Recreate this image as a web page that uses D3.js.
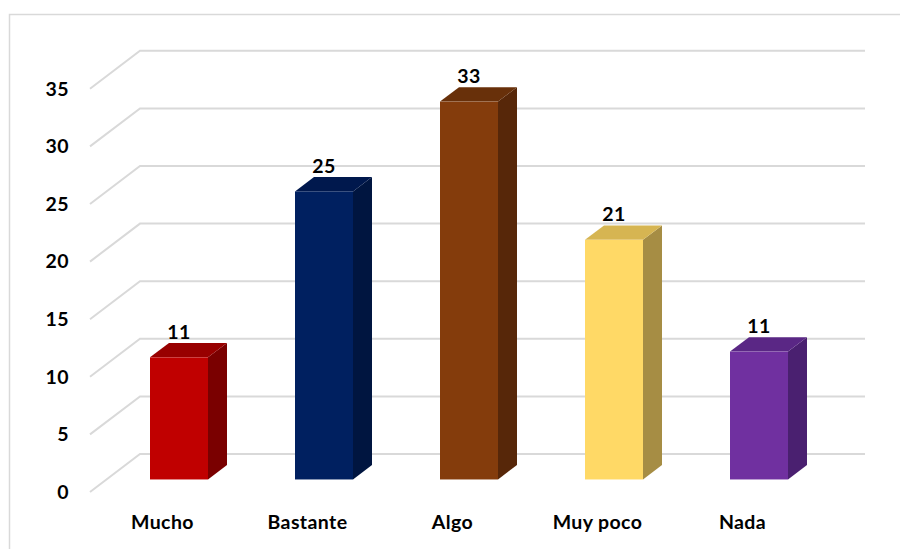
<!DOCTYPE html>
<html>
<head>
<meta charset="utf-8">
<script src="https://cdn.jsdelivr.net/npm/d3@7/dist/d3.min.js"></script>
<style>
  html, body { margin: 0; padding: 0; background: #fff; }
  svg { display: block; }
  text { font-family: Lato, "Open Sans", sans-serif; font-weight: bold; fill: #000; letter-spacing: 0.4px; }
</style>
</head>
<body>
<svg id="chart" width="900" height="549"></svg>
<script>
// ---- data ----
const categories = ["Mucho", "Bastante", "Algo", "Muy poco", "Nada"];
const values = [10.6, 25.0, 32.8, 20.8, 11.1];
const frontColors = ["#C00000", "#002060", "#843C0C", "#FFD966", "#7030A0"];
const sideColors  = ["#7A0000", "#001540", "#572709", "#A68D44", "#4A2070"];
const topColors   = ["#980000", "#00184D", "#68300A", "#D6B552", "#5A2785"];
const yTicks = [0, 5, 10, 15, 20, 25, 30, 35];

// ---- layout ----
const W = 900, H = 549;
const svg = d3.select("#chart");
const front = { left: 90, right: 815, bottom: 492, top: 88.8 };
const depth = { dx: 50, dy: -38 };   // full floor depth
const barFrontFrac = 0.33, barBackFrac = 0.71;
const fs = 19.5;

const x = d3.scaleBand().domain(categories).range([front.left, front.right]).paddingInner(0).paddingOuter(0);
const y = d3.scaleLinear().domain([0, 35]).range([front.bottom, front.top]);

// chart border
svg.append("path")
  .attr("d", `M9.5,${H} L9.5,14.5 L${W},14.5`)
  .attr("fill", "none").attr("stroke", "#d9d9d9").attr("stroke-width", 1.5);

// gridlines (back wall + side wall diagonal)
const grid = svg.append("g").attr("stroke", "#d9d9d9").attr("stroke-width", 2).attr("fill", "none");
yTicks.forEach(t => {
  const yf = y(t);
  grid.append("path")
    .attr("d", `M${front.left},${yf} L${front.left + depth.dx},${yf + depth.dy} L${front.right + depth.dx},${yf + depth.dy}`);
});

// y tick labels
svg.append("g").selectAll("text").data(yTicks).join("text")
  .attr("x", 69).attr("y", d => y(d)).attr("dy", "0.35em")
  .attr("text-anchor", "end").attr("font-size", fs)
  .text(d => d);

// bars
const bw = x.bandwidth() * 0.4;
const fdx = depth.dx * barFrontFrac, fdy = depth.dy * barFrontFrac;
const bdx = depth.dx * barBackFrac, bdy = depth.dy * barBackFrac;
const ddx = bdx - fdx, ddy = bdy - fdy;

const bars = svg.append("g").selectAll("g").data(categories).join("g");
bars.each(function(c, i) {
  const g = d3.select(this);
  const x0 = x(c) + x.bandwidth() / 2 + fdx - bw / 2;
  const x1 = x0 + bw;
  const yb = y(0) + fdy;
  const yt = y(values[i]) + fdy;
  // side
  g.append("path")
    .attr("d", `M${x1},${yb} L${x1 + ddx},${yb + ddy} L${x1 + ddx},${yt + ddy} L${x1},${yt} Z`)
    .attr("fill", sideColors[i]);
  // top
  g.append("path")
    .attr("d", `M${x0},${yt} L${x1},${yt} L${x1 + ddx},${yt + ddy} L${x0 + ddx},${yt + ddy} Z`)
    .attr("fill", topColors[i]);
  // front
  g.append("rect")
    .attr("x", x0).attr("y", yt).attr("width", bw).attr("height", yb - yt)
    .attr("fill", frontColors[i]);
  // data label
  g.append("text")
    .attr("x", (x0 + x1) / 2).attr("y", yt + ddy - 4)
    .attr("text-anchor", "middle").attr("font-size", fs)
    .text(d3.format(".0f")(values[i]));
});

// category labels
svg.append("g").selectAll("text").data(categories).join("text")
  .attr("x", d => x(d) + x.bandwidth() / 2).attr("y", 529)
  .attr("text-anchor", "middle").attr("font-size", fs)
  .text(d => d);
</script>
</body>
</html>
